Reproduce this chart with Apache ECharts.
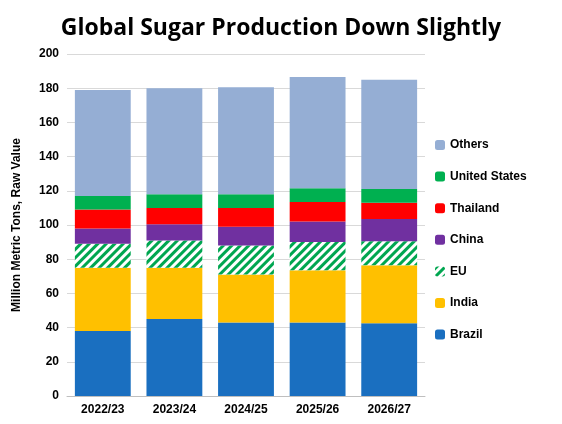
<!DOCTYPE html>
<html>
<head>
<meta charset="utf-8">
<script src="https://cdn.jsdelivr.net/npm/echarts@6/dist/echarts.min.js"></script>
<style>html,body{margin:0;padding:0;background:#fff}#main{width:562px;height:424px}</style>
</head>
<body>
<div id="main"></div>
<script>
// marketing years
var years = ['2022/23', '2023/24', '2024/25', '2025/26', '2026/27'];
// million metric tons, raw value
var brazil = [38, 45, 43, 43, 42.5];
var india = [37, 30, 28, 30.5, 34];
var eu = [14, 16, 17, 16.5, 14];
var china = [9, 9.5, 11, 12, 13];
var thailand = [11, 9.5, 11, 11.5, 9.5];
var unitedStates = [8, 8, 8, 8, 8];
var others = [62, 62, 62.5, 65, 64];

var font = 'Liberation Sans';
function bar(name, data, color, extra) {
    var s = {
        name: name, type: 'bar', stack: 'total', data: data, barWidth: '78%',
        itemStyle: { color: color }
    };
    if (extra) s.itemStyle.decal = extra;
    return s;
}

var chart = echarts.init(document.getElementById('main'));
chart.setOption({
    animation: false,
    textStyle: { fontFamily: font },
    title: {
        text: 'Global Sugar Production Down Slightly', left: 'center', top: 12,
        textStyle: { fontSize: 23, fontWeight: 'bold', color: '#000', fontFamily: 'Open Sans' }
    },
    grid: { left: 67, right: 137, top: 54, bottom: 28 },
    legend: {
        orient: 'vertical', left: 430, top: 134, itemGap: 19.6, itemWidth: 10, itemHeight: 10,
        data: ['Others', 'United States', 'Thailand', 'China', 'EU', 'India', 'Brazil'],
        textStyle: { fontSize: 12, fontWeight: 'bold', color: '#000', fontFamily: font }
    },
    xAxis: {
        type: 'category', data: years,
        axisLine: { lineStyle: { color: '#bfbfbf' } }, axisTick: { show: false },
        axisLabel: { fontSize: 12, fontWeight: 'bold', color: '#000' }
    },
    yAxis: {
        type: 'value', min: 0, max: 200, interval: 20,
        name: 'Million Metric Tons, Raw Value', nameLocation: 'middle', nameGap: 44,
        nameTextStyle: { fontSize: 12, fontWeight: 'bold', color: '#000' },
        axisLabel: { fontSize: 12, fontWeight: 'bold', color: '#000' },
        splitLine: { lineStyle: { color: '#d9d9d9' } }
    },
    series: [
        bar('Brazil', brazil, '#1a6fc0'),
        bar('India', india, '#ffc000'),
        bar('EU', eu, '#ffffff', {
            symbol: 'rect', color: '#00a650', dashArrayX: [1, 0], dashArrayY: [3, 3],
            rotation: -Math.PI / 4, symbolSize: 1
        }),
        bar('China', china, '#7030a0'),
        bar('Thailand', thailand, '#ff0000'),
        bar('United States', unitedStates, '#00b050'),
        bar('Others', others, '#95aed4')
    ]
});
</script>
</body>
</html>
